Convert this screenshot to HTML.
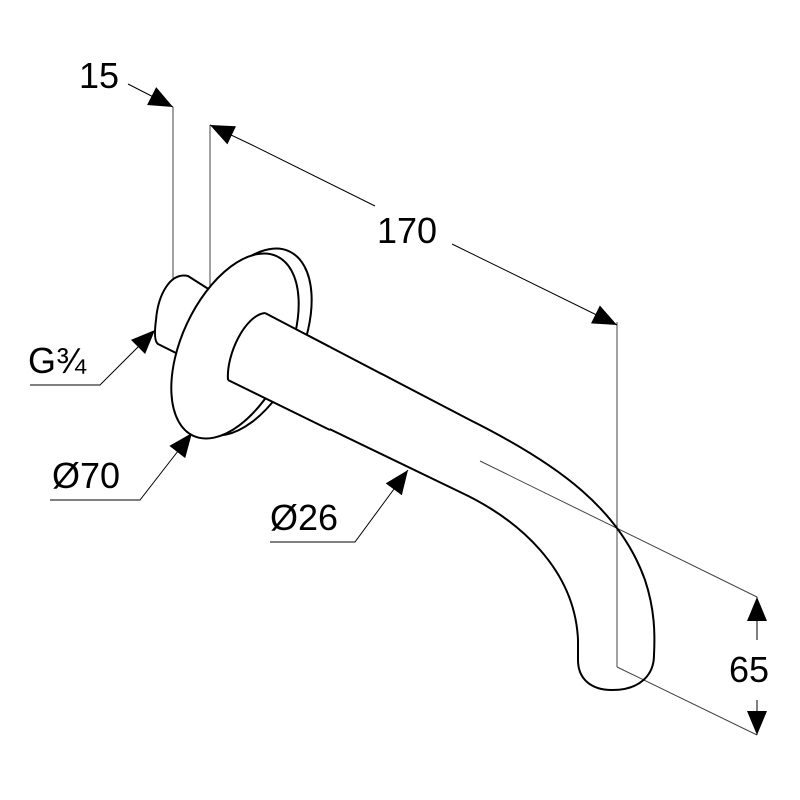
<!DOCTYPE html>
<html><head><style>html,body{margin:0;padding:0;background:#fff}svg{display:block}</style></head>
<body>
<svg width="800" height="800" viewBox="0 0 800 800" xmlns="http://www.w3.org/2000/svg">
<defs>
<marker id="a" viewBox="0 0 12 10" refX="12" refY="5" markerWidth="28" markerHeight="20" markerUnits="userSpaceOnUse" orient="auto"><path d="M0,0 L12,5 L0,10 Z" fill="#000"/></marker>
</defs>
<g fill="none" stroke="#000" stroke-width="1">
<line x1="173" y1="107" x2="173" y2="312" stroke="#444"/>
<line x1="210" y1="125" x2="210" y2="288" stroke="#444"/>
<line x1="617" y1="322" x2="617" y2="667" stroke="#444"/>
<line x1="617" y1="667" x2="757" y2="735" stroke="#444"/>
<line x1="480" y1="461" x2="757" y2="597" stroke="#444"/>
<line x1="128" y1="84" x2="173" y2="107" marker-end="url(#a)"/>
<line x1="250" y1="144" x2="210" y2="125" marker-end="url(#a)"/>
<line x1="250" y1="144" x2="375" y2="206"/>
<line x1="452" y1="244" x2="617" y2="325" marker-end="url(#a)"/>
<line x1="757" y1="640" x2="757" y2="597" marker-end="url(#a)"/>
<line x1="757" y1="700" x2="757" y2="735" marker-end="url(#a)"/>
<polyline points="30,385 100,385 155,330" marker-end="url(#a)"/>
<polyline points="50,500 140,500 192,433" marker-end="url(#a)"/>
<polyline points="270,542 355,542 408,470" marker-end="url(#a)"/>
</g>
<g stroke="#000" stroke-width="2" stroke-linejoin="round">
<!-- G3/4 cylinder -->
<path fill="#fff" d="M188,276 C170,272 158,295 156,320 C154,335 155,342 158,344 L182,356 L210,290 Z"/>
<!-- spout -->
<path fill="none" d="M265,313 L470,420 C560,465 620,510 645,580 C655,610 655,635 654,655 C654,675 640,690 612,690 C590,690 578,678 578,660 L578,640 C575,570 520,520 460,492 L228,380"/>
<!-- flange back -->
<ellipse fill="#fff" cx="247" cy="342" rx="54" ry="100" transform="rotate(25 247 342)"/>
<!-- flange front -->
<ellipse fill="#fff" cx="235" cy="346" rx="53" ry="99" transform="rotate(25 235 346)"/>
<!-- pipe over flange -->
<path fill="#fff" stroke="none" d="M265,313 L330,347 L330,431 L228,380 C222,360 240,318 265,313 Z"/>
<path fill="none" d="M265,313 L330,347 M228,380 L330,430"/>
<path fill="none" d="M265,313 C245,315 226,355 228,380"/>
</g>
<g font-family="Liberation Sans, sans-serif" font-size="36" fill="#000">
<text x="79" y="88">15</text>
<text x="377" y="243">170</text>
<text x="729" y="682">65</text>
<text x="28" y="373">G¾</text>
<text x="52" y="488">Ø70</text>
<text x="270" y="530">Ø26</text>
</g>
</svg>
</body></html>
